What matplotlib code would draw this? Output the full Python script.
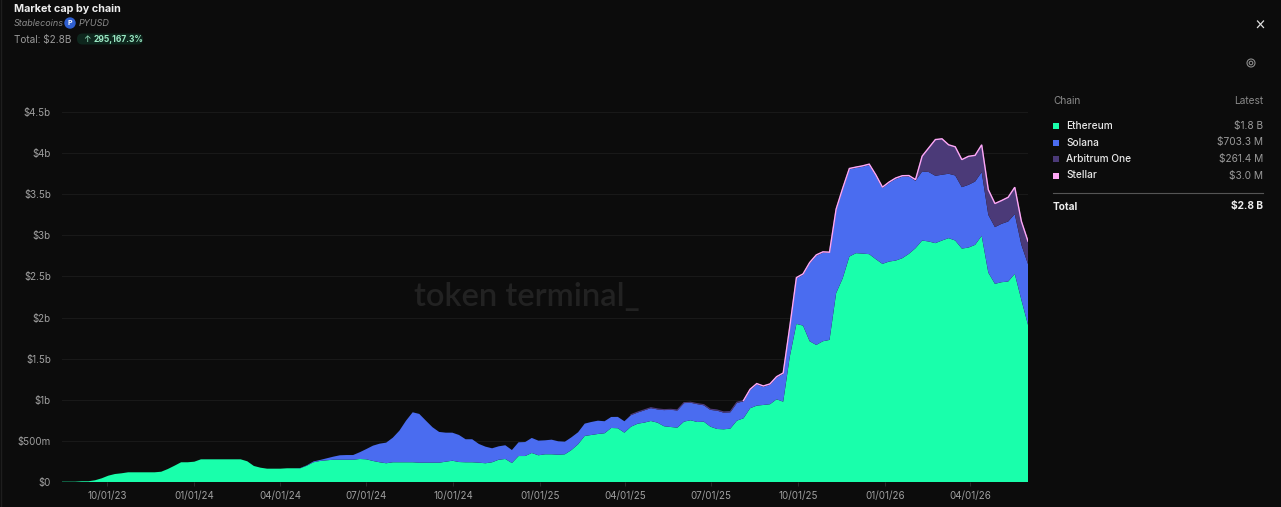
import numpy as np
import pandas as pd
import matplotlib
matplotlib.use("Agg")
import matplotlib.pyplot as plt
from matplotlib.patches import Circle, FancyBboxPatch, Rectangle

plt.rcParams["font.family"] = ["Inter", "DejaVu Sans"]

# weekly, values in $m
start_date = "2023-08-14"
n_weeks = 147

ethereum = [
    4, 4, 4, 9, 9, 21, 45, 77, 97, 106, 118, 118, 118, 118, 118, 125, 158, 198, 240, 240,
    247, 276, 276, 276, 276, 276, 276, 276, 252, 195, 174, 162, 162,
    162, 167, 167, 167, 198, 240, 256, 264, 271, 271, 271, 271, 280, 276, 256, 240, 228, 240,
    240, 240, 240, 235, 235, 235, 235, 247, 259, 243, 240, 240,
    235, 228, 240, 271, 280, 231, 316, 316, 353, 325, 337, 337, 332, 337, 389, 459, 560, 572,
    584, 593, 657, 654, 600,
    673, 709, 722, 742, 722, 678, 669, 661, 734, 751, 730, 734, 673, 645, 641, 649, 746, 775,
    897, 929, 937, 946, 1006, 977,
    1525, 1923, 1902, 1712, 1667, 1712, 1728, 2297, 2479, 2742, 2783, 2778, 2771, 2710, 2653,
    2681, 2693,
    2722, 2775, 2844, 2937, 2925, 2905, 2937, 2966, 2937, 2839, 2851, 2884, 2994, 2547, 2410,
    2430, 2438, 2531, 2215, 1911,
]
solana = [
    0, 0, 0, 0, 0, 0, 0, 0, 0, 0, 0, 0, 0, 0, 0, 0, 0, 0, 0, 0,
    0, 0, 0, 0, 0, 0, 0, 0, 0, 0, 0, 0, 0, 0, 0, 0,
    3, 5, 10, 12, 24, 37, 54, 57, 57, 82, 125, 186, 226, 251, 299, 385, 506, 608, 593, 511,
    431, 374, 353, 341, 329, 280, 280,
    228, 202, 170, 163, 167, 158, 167, 170, 183, 178, 170, 178, 163, 153, 155, 146, 150, 158,
    162, 146, 134, 138, 139,
    141, 137, 150, 157, 162, 197, 210, 210, 226, 214, 218, 199, 204, 223, 203, 199, 216, 206,
    221, 258, 221, 237, 265, 339,
    355, 553, 619, 947, 1085, 1077, 1057, 1012, 1085, 1061, 1037, 1057, 1085, 1016, 923, 956,
    993,
    992, 941, 819, 840, 845, 819, 800, 783, 791, 747, 763, 770, 775, 702, 690, 710, 730, 727,
    669, 739,
]
arbitrum = [
    0, 0, 0, 0, 0, 0, 0, 0, 0, 0, 0, 0, 0, 0, 0, 0, 0, 0, 0, 0,
    0, 0, 0, 0, 0, 0, 0, 0, 0, 0, 0, 0, 0, 0, 0, 0, 0, 0, 0, 0,
    0, 0, 0, 0, 0, 0, 0, 0, 0, 0, 0, 0, 0, 0, 0, 0, 0, 0, 0, 0,
    0, 0, 0, 0, 0, 0, 0, 0, 0, 0, 0, 0, 0, 0, 0, 0, 0, 0, 0, 0,
    0, 0, 0, 0, 0, 0,
    5, 5, 5, 5, 5, 5, 5, 5, 5, 5, 5,
    8, 8, 8, 8, 8, 8, 8, 8, 8, 8, 8, 8, 8,
    8, 8, 8, 8, 8, 8, 8, 8, 8, 8, 8, 8, 8, 8, 8, 8, 8,
    8, 8, 12, 183, 292, 438, 434, 349, 346, 332, 344, 316, 329, 304, 284, 280, 292, 324, 284,
    275,
]
stellar = [
    0, 0, 0, 0, 0, 0, 0, 0, 0, 0, 0, 0, 0, 0, 0, 0, 0, 0, 0, 0,
    0, 0, 0, 0, 0, 0, 0, 0, 0, 0, 0, 0, 0, 0, 0, 0, 0, 0, 0, 0,
    0, 0, 0, 0, 0, 0, 0, 0, 0, 0, 0, 0, 0, 0, 0, 0, 0, 0, 0, 0,
    0, 0, 0, 0, 0, 0, 0, 0, 0, 0, 0, 0, 0, 0, 0, 0, 0, 0, 0, 0,
    0, 0, 0, 0, 0, 0, 0, 0, 0, 0, 0, 0, 0, 0, 0, 0, 0, 0, 0, 0,
    0, 0, 0,
    2, 2, 2, 2, 2, 2, 2, 2, 2, 2, 2, 2, 2, 2, 2, 2, 2, 2, 2, 2, 2, 2,
    3, 3, 3, 3, 3, 3, 3, 3, 3, 3, 3, 3, 3, 3, 3, 3, 3, 3, 3, 3, 3, 3,
]

ytick_values = [0, 500, 1000, 1500, 2000, 2500, 3000, 3500, 4000, 4500]
ytick_labels = ["$0", "$500m", "$1b", "$1.5b", "$2b", "$2.5b", "$3b", "$3.5b", "$4b", "$4.5b"]
xtick_dates = ["2023-10-01", "2024-01-01", "2024-04-01", "2024-07-01", "2024-10-01", "2025-01-01",
               "2025-04-01", "2025-07-01", "2025-10-01", "2026-01-01", "2026-04-01"]
xtick_labels = ["10/01/23", "01/01/24", "04/01/24", "07/01/24", "10/01/24", "01/01/25",
                "04/01/25", "07/01/25", "10/01/25", "01/01/26", "04/01/26"]

chains = ["Ethereum", "Solana", "Arbitrum One", "Stellar"]
latest = ["$1.8 B", "$703.3 M", "$261.4 M", "$3.0 M"]
colors = ["#19FFAB", "#4A6CF0", "#4B3A78", "#FFA8F6"]

BG = "#0C0C0C"
W, H = 1281, 507

dates = pd.date_range(start_date, periods=n_weeks, freq="7D")
eth = np.array(ethereum, dtype=float)
sol = np.array(solana, dtype=float)
arb = np.array(arbitrum, dtype=float)
stl = np.array(stellar, dtype=float)

fig = plt.figure(figsize=(W / 100, H / 100), dpi=100, facecolor=BG)
ax = fig.add_axes([62 / W, (H - 482) / H, 966 / W, 370 / H], facecolor=BG)

ax.stackplot(dates, eth, sol, arb, stl, colors=colors, linewidth=0, zorder=3)

# thin strokes along the top of the two upper layers
arb_top = np.where(arb > 0, eth + sol + arb, np.nan)
ax.plot(dates, arb_top, color=colors[2], lw=0.8, zorder=4)
stl_top = np.where(stl > 0, eth + sol + arb + stl, np.nan)
ax.plot(dates, stl_top, color=colors[3], lw=1.0, zorder=5, solid_joinstyle="miter")

ax.set_xlim(dates[0], dates[-1])
ax.set_ylim(0, 4500)
ax.set_yticks(ytick_values)
ax.set_yticklabels(ytick_labels)
ax.set_xticks(pd.to_datetime(xtick_dates))
ax.set_xticklabels(xtick_labels)
ax.grid(axis="y", color="#191919", lw=0.8, zorder=0)
ax.tick_params(axis="y", length=0, pad=8, labelsize=7, labelcolor="#A0A0A0")
ax.tick_params(axis="x", length=3, width=0.7, color="#2A2A2A", pad=3.5, labelsize=7, labelcolor="#A0A0A0")
for s in ax.spines.values():
    s.set_visible(False)

# overlay in pixel coordinates for the header, legend panel and watermark
ov = fig.add_axes([0, 0, 1, 1], facecolor="none")
ov.set_xlim(0, W)
ov.set_ylim(H, 0)
ov.axis("off")

ov.plot([1, 1], [0, H], color="#1E1E1E", lw=1)
ov.text(527, 297, "token terminal_", color="#222222", fontsize=23.5, family=["Lato", "DejaVu Sans"],
        fontweight="semibold", ha="center", va="center")

ov.text(13.5, 9, "Market cap by chain", color="#EDEDED", fontsize=7.8, fontweight="bold", va="center")
ov.text(14, 23, "Stablecoins", color="#8A8A8A", fontsize=6.5, style="italic", va="center")
ov.add_patch(Circle((70, 23), 5, color="#2F5FD0"))
ov.text(70, 23, "P", color="white", fontsize=5, fontweight="bold", ha="center", va="center")
ov.text(79, 23, "PYUSD", color="#8A8A8A", fontsize=6.5, style="italic", va="center")
ov.text(13.5, 39.5, "Total: $2.8B", color="#9A9A9A", fontsize=7.2, va="center")
ov.add_patch(FancyBboxPatch((77, 33.5), 66, 11, boxstyle="round,pad=0,rounding_size=5.5", fc="#0E261D", ec="none"))
ov.text(83, 39.5, "↑", color="#9BE8C4", fontsize=6.5, va="center")
ov.text(93.5, 39.5, "295,167.3%", color="#9BE8C4", fontsize=6.1, fontweight="bold", va="center")

# close and settings icons
ov.plot([1257.5, 1263.5], [21, 27.5], color="#E0E0E0", lw=0.9)
ov.plot([1257.5, 1263.5], [27.5, 21], color="#E0E0E0", lw=0.9)
ov.add_patch(Circle((1251, 63), 4, fc="none", ec="#8A8A8A", lw=0.8))
ov.add_patch(Circle((1251, 63), 1.8, fc="none", ec="#8A8A8A", lw=0.8))

# legend panel
ov.text(1053, 100.5, "Chain", color="#8A8A8A", fontsize=7.3, va="center")
ov.text(1263, 100.5, "Latest", color="#8A8A8A", fontsize=7.3, ha="right", va="center")
row_y = [126, 142.5, 159, 175.5]
for name, value, c, y in zip(chains, latest, colors, row_y):
    ov.add_patch(Rectangle((1053, y - 3), 6, 6, fc=c, ec="none"))
    ov.text(1066.5, y, name, color="#E8E8E8", fontsize=7.3, va="center", fontweight="medium")
    ov.text(1263, y, value, color="#9A9A9A", fontsize=7.3, ha="right", va="center")
ov.plot([1053, 1263], [192.5, 192.5], color="#555555", lw=0.8)
ov.text(1053, 206.5, "Total", color="#EDEDED", fontsize=7.3, fontweight="bold", va="center")
ov.text(1263, 206.5, "$2.8 B", color="#EDEDED", fontsize=7.3, fontweight="bold", ha="right", va="center")

fig.savefig("out.png", dpi=100, facecolor=BG)
